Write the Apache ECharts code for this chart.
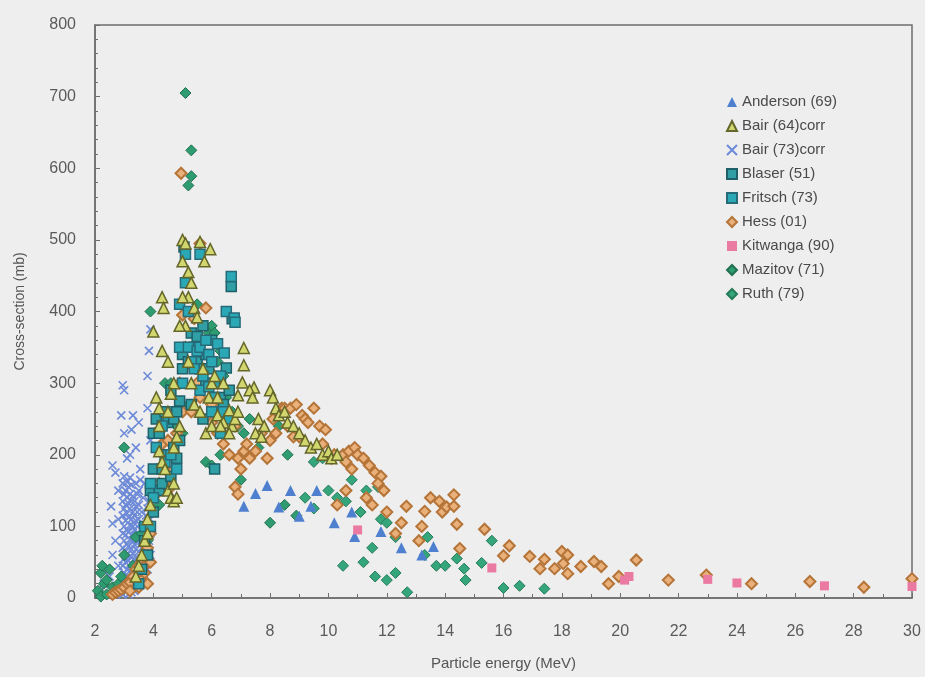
<!DOCTYPE html>
<html>
<head>
<meta charset="utf-8">
<script src="https://cdn.jsdelivr.net/npm/echarts@6/dist/echarts.min.js"></script>
<style>
  html, body { margin: 0; padding: 0; background: #eeeeee; }
  #chart { width: 925px; height: 677px; }
</style>
</head>
<body>
<div id="chart"></div>
<script>
// Energy (MeV), cross-section (mb) pairs for each data set
const anderson69 = [[7.1,128],[7.5,146],[7.9,157],[8.3,127],[8.7,150],[9.0,114],[9.4,128],[9.6,150],[10.2,105],[10.8,120],[10.9,86],[11.8,93],[12.5,70],[13.2,60],[13.6,72]];

const bair64corr = [
  [3.4,30],[3.5,45],[3.6,60],[3.7,80],[3.8,90],[3.8,110],[3.9,130],[4.0,372],[4.1,280],[4.2,265],[4.2,240],[4.2,205],[4.3,190],[4.4,180],
  [4.3,420],[4.35,405],[4.3,345],[4.5,330],[4.7,300],[4.6,285],[4.5,260],[4.7,210],[4.8,225],[4.9,240],[4.5,150],[4.6,140],[4.7,135],[4.7,160],[4.8,140],
  [5.0,500],[5.1,495],[5.0,470],[5.2,455],[5.3,440],[5.2,420],[5.0,420],[5.4,405],[5.5,392],[5.1,380],[4.9,380],[5.2,330],[5.3,300],[5.4,270],
  [5.6,497],[5.95,487],[5.75,470],[5.7,320],[5.6,260],[5.8,230],[5.9,280],[6.0,300],[6.0,240],[6.1,310],[6.2,280],[6.2,255],[6.4,300],[6.4,245],[6.6,262],[6.7,240],[6.8,250],[6.3,240],[6.6,230],[6.9,260],
  [7.1,349],[7.1,325],[7.05,301],[6.9,283],[7.45,294],[7.3,290],[7.4,280],[7.6,250],[7.8,240],[7.5,230],[7.7,225],
  [8.0,290],[8.1,280],[8.2,265],[8.3,255],[8.5,260],[8.6,245],[8.8,240],[9.0,230],
  [9.2,220],[9.4,210],[9.6,215],[9.8,200],[10.0,205],[10.1,195],[10.3,200]
];

const bair73corr = [
  [2.2,10],[2.3,20],[2.35,5],[2.4,40],[2.5,30],[2.55,128],[2.6,60],[2.6,104],[2.6,185],[2.7,80],[2.7,175],[2.8,110],[2.8,150],[2.8,45],
  [2.9,255],[2.95,297],[3.0,290],[3.0,230],[3.1,195],[3.2,200],[3.25,235],[3.3,255],[3.4,210],[3.5,245],[3.55,180],
  [3.8,310],[3.85,345],[3.9,375],[3.8,265],[3.9,220],[3.7,160],
  [2.95,5],[2.95,25],[2.95,45],[2.95,70],[2.95,90],[2.95,115],[2.95,135],[2.95,160],
  [3.0,15],[3.0,35],[3.0,55],[3.0,80],[3.0,100],[3.0,125],[3.0,145],[3.0,170],
  [3.05,8],[3.05,28],[3.05,50],[3.05,65],[3.05,88],[3.05,108],[3.05,130],[3.05,150],
  [3.1,18],[3.1,40],[3.1,60],[3.1,75],[3.1,95],[3.1,118],[3.1,140],[3.1,162],
  [3.15,5],[3.15,30],[3.15,52],[3.15,72],[3.15,92],[3.15,112],[3.15,132],[3.15,155],
  [3.2,15],[3.2,38],[3.2,58],[3.2,82],[3.2,102],[3.2,125],[3.2,145],[3.2,168],
  [3.25,8],[3.25,25],[3.25,48],[3.25,68],[3.25,88],[3.25,110],[3.25,135],[3.25,158],
  [3.3,18],[3.3,40],[3.3,62],[3.3,80],[3.3,100],[3.3,120],[3.3,142],
  [3.35,10],[3.35,32],[3.35,55],[3.35,75],[3.35,95],[3.35,115],[3.35,135],
  [3.4,20],[3.4,45],[3.4,68],[3.4,88],[3.4,108],[3.4,128],[3.4,160],
  [3.45,30],[3.45,55],[3.45,78],[3.45,100],[3.45,120],[3.45,145],
  [3.5,40],[3.5,65],[3.5,90],[3.5,110],[3.5,130],[3.5,150],
  [3.55,20],[3.55,45],[3.55,165],[3.6,70],[3.6,95],[3.6,120],[3.65,35],[3.65,140],[3.7,50],
  [3.7,70],[3.7,85],[3.7,100],[3.75,115],[3.8,125],[3.8,95],[3.85,80],[3.9,110],[3.75,60],[3.85,135],
  [3.8,40],[3.85,110],[3.9,60],[3.9,90],[3.95,130],[3.95,150]
];

const blaser51 = [
  [3.6,40],[3.7,80],[3.8,60],[3.9,150],[4.0,120],[4.0,180],[4.0,230],[4.1,250],[4.2,150],[4.2,230],[4.3,160],[4.3,180],[4.4,260],[4.5,200],
  [4.5,245],[4.6,170],[4.6,290],[4.7,210],[4.7,250],[4.8,195],[4.8,260],[4.9,220],[4.9,275],[5.05,490],[5.0,320],[5.0,340],[5.2,330],[5.3,270],[5.3,370],
  [5.4,350],[5.5,330],[5.5,365],[5.6,320],[5.7,380],[5.8,300],[5.8,340],[5.9,320],[6.0,360],[6.1,300],[6.2,260],[6.3,280],[6.5,255],[6.6,290],
  [6.67,435],[6.7,390],[6.5,321],[6.1,180],[6.4,270],[5.7,250]
];

const fritsch73 = [
  [3.5,20],[3.7,100],[3.9,100],[3.9,160],[4.0,140],[4.1,210],[4.3,240],[4.4,190],[4.6,200],[4.8,180],[4.9,350],[4.9,410],[5.1,480],[5.1,440],
  [5.2,400],[5.2,350],[5.0,300],[5.3,330],[5.4,320],[5.5,345],[5.6,480],[5.6,350],[5.6,290],[5.7,310],[5.8,360],[5.9,340],[6.0,330],[6.0,260],
  [6.1,280],[6.2,355],[6.3,310],[6.4,260],[6.6,250],[6.67,449],[6.5,400],[6.77,391],[6.43,342],[6.8,385],[5.9,295],[6.3,230]
];

const hess01 = [
  [2.6,5],[2.7,8],[2.8,10],[2.9,12],[3.0,15],[3.1,20],[3.2,22],[3.2,10],[3.3,30],[3.4,40],[3.4,25],[3.5,45],[3.5,15],[3.6,50],
  [3.6,25],[3.7,60],[3.7,45],[3.7,35],[3.8,70],[3.8,20],[3.9,50],[3.9,90],[4.1,145],[4.2,160],[4.3,215],[4.4,180],[4.5,220],[4.6,175],[4.6,155],
  [4.8,230],[4.9,300],[4.95,593],[5.0,395],[5.0,260],[5.1,350],[5.3,325],[5.3,260],[5.4,390],[5.6,495],[5.6,280],[5.8,405],[5.5,300],[5.9,250],
  [6.0,270],[6.0,245],[6.2,230],[6.4,215],[6.5,260],[6.6,200],[6.8,240],[6.8,155],[6.9,145],[6.9,195],
  [7.0,180],[7.1,205],[7.2,215],[7.3,195],[7.5,205],[7.7,230],[7.9,195],[8.0,220],[8.1,250],[8.2,230],[8.4,265],[8.5,265],[8.6,240],[8.7,265],[8.9,270],[9.0,225],[9.1,255],
  [9.2,250],[8.8,225],[9.3,245],[9.5,265],[9.7,240],[9.8,215],[9.9,235],[10.1,195],[10.2,200],[10.5,200],
  [10.6,190],[10.7,205],[10.9,210],[11.0,200],[11.2,195],[11.4,185],[10.8,180],[11.6,175],[11.8,170],[11.7,160],
  [10.6,150],[10.3,130],[11.3,140],[11.5,130],[12.0,120],[11.9,150],[12.3,90],[12.5,105],[12.67,128],[13.1,80],
  [13.3,121],[13.2,100],[13.5,140],[13.8,135],[13.9,120],[14.05,127],[14.3,144],[14.3,128],[14.4,103],[14.5,69],
  [15.35,96],[16.0,59],[16.2,73],[16.9,58],[17.25,41],[17.4,54],[17.75,41],[18.0,65],[18.05,48],[18.2,60],
  [18.2,34],[18.65,44],[19.1,51],[19.35,44],[19.6,20],[19.95,30],[20.55,53],[21.65,25],[22.95,32],[24.5,20],
  [26.5,23],[28.35,15],[30.0,27]
];

const kitwanga90 = [[11.0,95],[15.6,42],[20.15,25],[20.3,30],[23.0,26],[24.0,21],[27.0,17],[30.0,16]];

const mazitov71 = [
  [2.1,10],[2.2,2],[2.2,35],[2.25,45],[2.3,20],[2.4,5],[2.4,25],[2.5,40],[2.6,15],[2.7,10],[2.8,20],[2.9,30],[3.0,60],[3.0,210],[3.3,45],[3.4,85],[3.6,90],[3.8,80],[3.9,400],
  [4.2,130],[4.4,300],[4.5,160],[4.6,300],[4.8,240],[5.0,230],[5.1,705],[5.2,270],[5.3,625],[5.3,589],[5.2,576],[5.5,410],[5.5,260],[5.7,300],[5.9,370],
  [6.0,380],[6.1,370],[6.2,330],[6.4,310],[6.5,280],[6.7,260],[6.9,240],[7.1,230],[5.8,190],[6.0,185],
  [6.3,345],[6.3,200],[7.0,165],[7.3,250],[7.6,210],[8.0,105],[8.3,240],[8.6,200],[8.9,115],[8.5,130]
];

const ruth79 = [
  [9.2,140],[9.5,125],[9.5,190],[9.8,195],[10.0,200],[10.0,150],[10.3,140],[10.6,135],[10.8,165],[11.1,120],
  [11.3,150],[11.7,155],[11.8,110],[12.0,105],[12.3,85],[11.5,70],[11.2,50],[10.5,45],[11.6,30],[12.0,25],
  [12.3,35],[12.7,8],[13.3,60],[13.4,85],[13.7,45],[14.0,45],[14.4,55],[14.65,41],[14.7,25],[15.25,49],
  [15.6,80],[16.0,14],[16.55,17],[17.4,13]
];

const xTicks = { min: 2, max: 30, interval: 2 };
const yTicks = { min: 0, max: 800, interval: 100 };

const crossPath = 'path://M0,0L10,10M10,0L0,10';

function scatter(name, data, symbol, size, fill, border, bw) {
  return {
    name: name,
    type: 'scatter',
    data: data,
    symbol: symbol,
    symbolSize: size,
    itemStyle: { color: fill, borderColor: border, borderWidth: bw, opacity: 1 },
    emphasis: { disabled: true },
    animation: false
  };
}

const chart = echarts.init(document.getElementById('chart'), null, { renderer: 'canvas' });
chart.setOption({
  backgroundColor: '#eeeeee',
  textStyle: { fontFamily: 'Liberation Sans, Arial, sans-serif' },
  grid: { left: 95, right: 13, top: 25, bottom: 79, show: true, borderColor: '#6e6e6e', borderWidth: 1.5, backgroundColor: 'transparent' },
  legend: {
    orient: 'vertical',
    left: 721,
    top: 89,
    itemWidth: 10,
    itemHeight: 10,
    itemGap: 8,
    textStyle: { fontSize: 15, color: '#4a4a4a', lineHeight: 16 },
    data: ['Anderson (69)','Bair (64)corr','Bair (73)corr','Blaser (51)','Fritsch (73)','Hess (01)','Kitwanga (90)','Mazitov (71)','Ruth (79)']
  },
  xAxis: {
    type: 'value',
    min: xTicks.min, max: xTicks.max, interval: xTicks.interval,
    name: 'Particle energy (MeV)',
    nameLocation: 'middle',
    nameGap: 58,
    nameTextStyle: { fontSize: 15, color: '#555555' },
    axisLine: { lineStyle: { color: '#6e6e6e', width: 1.5 } },
    axisTick: { inside: true, length: 5, lineStyle: { color: '#6e6e6e' } },
    minorTick: { show: true, splitNumber: 2, length: 4, lineStyle: { color: '#6e6e6e' } },
    axisLabel: { fontSize: 16, color: '#5a5a5a', margin: 26 },
    splitLine: { show: false }
  },
  yAxis: {
    type: 'value',
    min: yTicks.min, max: yTicks.max, interval: yTicks.interval,
    name: 'Cross-section (mb)',
    nameLocation: 'middle',
    nameGap: 68,
    nameTextStyle: { fontSize: 14, color: '#555555' },
    axisLine: { show: true, lineStyle: { color: '#6e6e6e', width: 1.5 } },
    axisTick: { show: true, inside: true, length: 5, lineStyle: { color: '#6e6e6e' } },
    minorTick: { show: true, splitNumber: 5, length: 3, lineStyle: { color: '#6e6e6e' } },
    axisLabel: { fontSize: 16, color: '#5a5a5a', margin: 19 },
    splitLine: { show: false }
  },
  series: [
    scatter('Bair (73)corr', bair73corr, crossPath, 8, '#6d8ad8', '#6d8ad8', 1.6),
    scatter('Ruth (79)', ruth79, 'diamond', 11, '#35a57c', '#257a5a', 1),
    scatter('Mazitov (71)', mazitov71, 'diamond', 11, '#2e9b70', '#22704f', 1),
    scatter('Hess (01)', hess01, 'diamond', 11, '#e9b07a', '#b57438', 2),
    scatter('Blaser (51)', blaser51, 'rect', 10, '#2f9fa5', '#1f5f68', 1.5),
    scatter('Fritsch (73)', fritsch73, 'rect', 10, '#2ba8b6', '#276a78', 1.5),
    scatter('Bair (64)corr', bair64corr, 'triangle', 11, '#d2d66e', '#64662a', 1.5),
    scatter('Anderson (69)', anderson69, 'triangle', 11, '#4f80cf', '#4f80cf', 0),
    scatter('Kitwanga (90)', kitwanga90, 'rect', 9, '#ea7aa2', '#ea7aa2', 0)
  ]
});
</script>
</body>
</html>
